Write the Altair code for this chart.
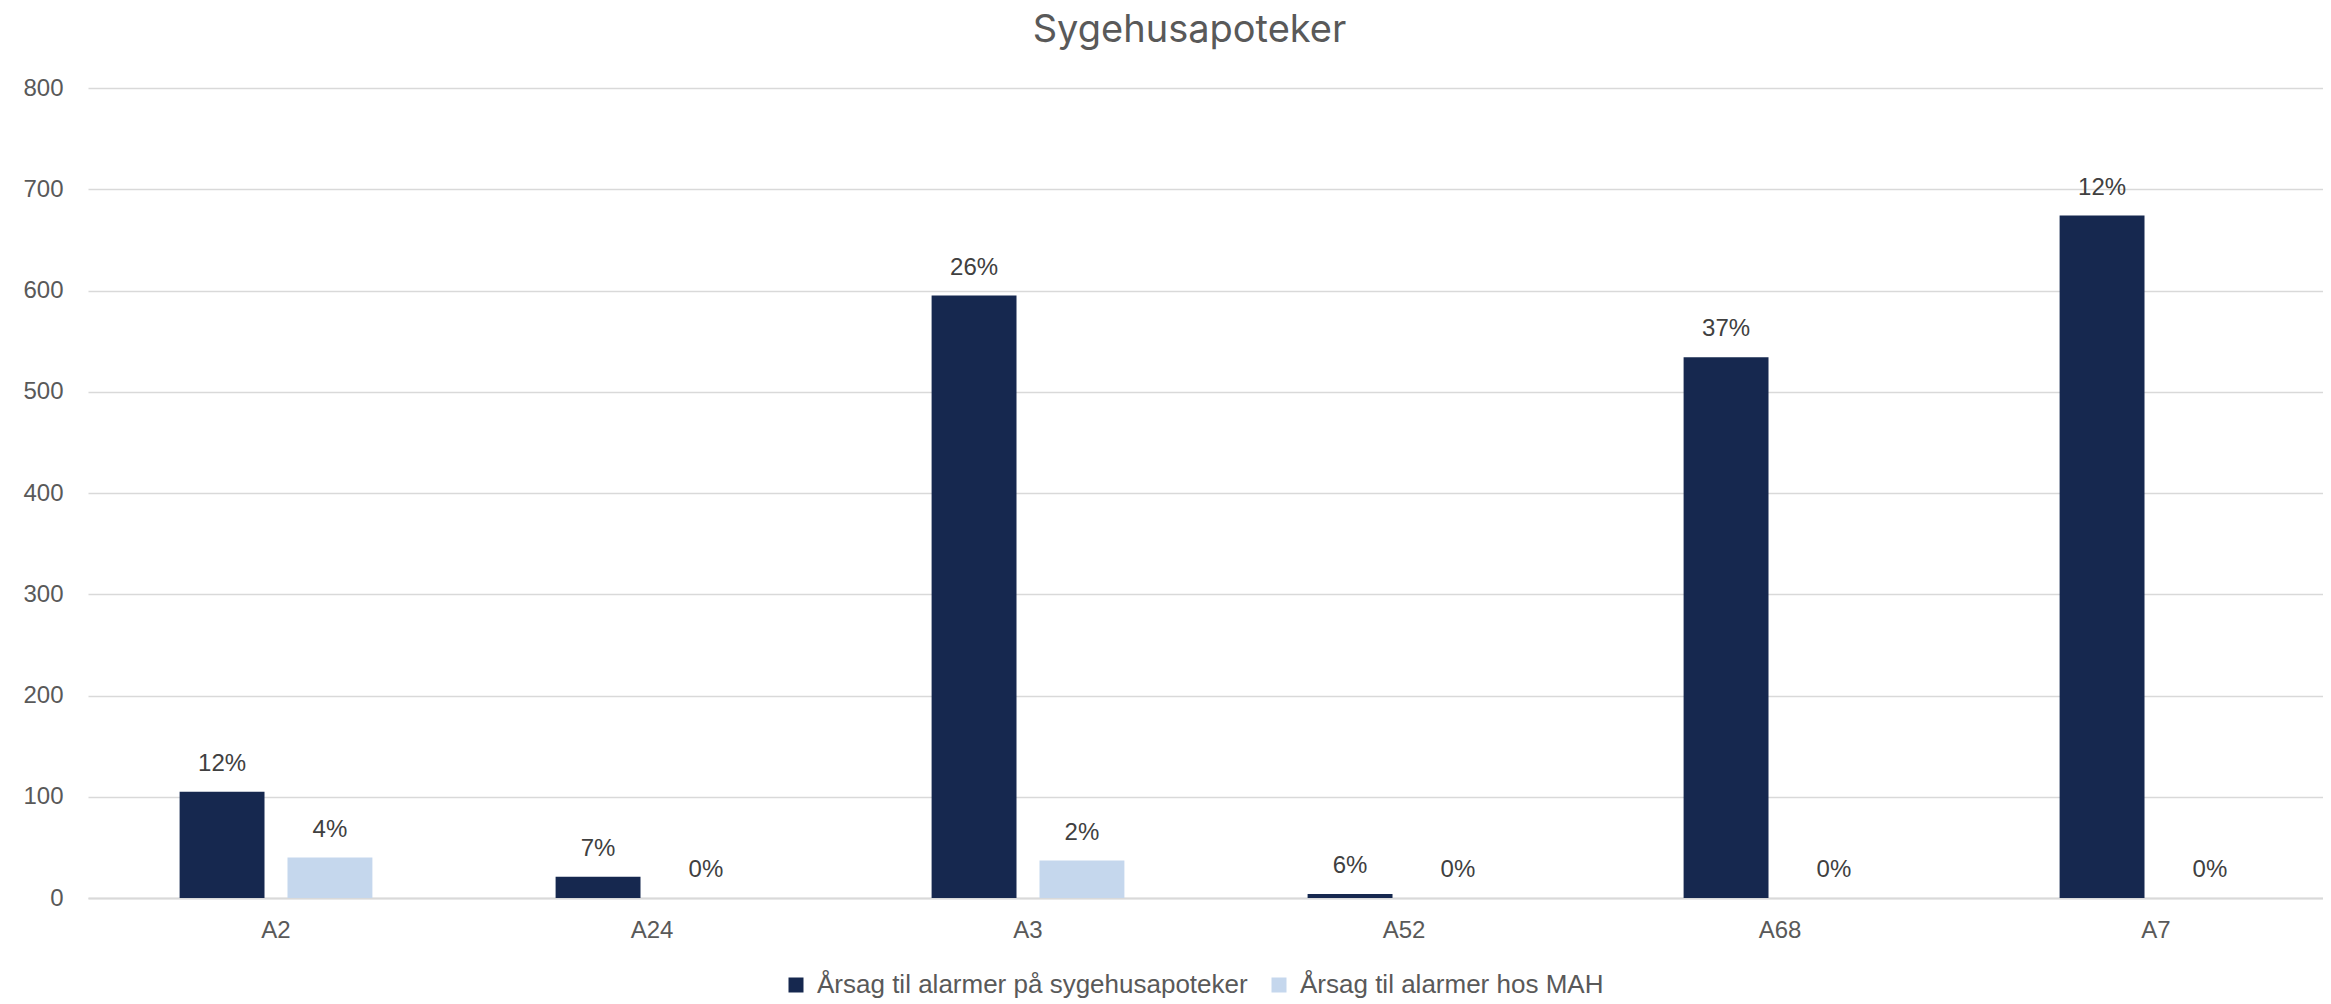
import altair as alt
import pandas as pd

categories = ["A2", "A24", "A3", "A52", "A68", "A7"]
series_names = ["Årsag til alarmer på sygehusapoteker", "Årsag til alarmer hos MAH"]
values_sygehus = [105, 21, 595, 4, 534, 674]
values_mah = [40, 0, 37, 0, 0, 0]
pct_sygehus = ["12%", "7%", "26%", "6%", "37%", "12%"]
pct_mah = ["4%", "0%", "2%", "0%", "0%", "0%"]
y_ticks = [0, 100, 200, 300, 400, 500, 600, 700, 800]
colors = ["#16284f", "#c5d7ed"]

rows = []
for i, c in enumerate(categories):
    rows.append({"cat": c, "series": series_names[0], "value": values_sygehus[i], "pct": pct_sygehus[i]})
    rows.append({"cat": c, "series": series_names[1], "value": values_mah[i], "pct": pct_mah[i]})
df = pd.DataFrame(rows)

base = alt.Chart(df).encode(
    x=alt.X(
        "cat:N",
        sort=categories,
        scale=alt.Scale(range=[0, 2256], paddingInner=0, paddingOuter=0),
        axis=alt.Axis(
            title=None, labelAngle=0, ticks=False, tickSize=0, domain=True,
            domainColor="#d9d9d9", domainWidth=2, labelFontSize=24,
            labelColor="#595959", labelFont="Liberation Sans", labelPadding=20,
            grid=False,
        ),
    ),
    xOffset=alt.XOffset(
        "series:N", sort=series_names,
        scale=alt.Scale(paddingInner=0.213, paddingOuter=0.849),
    ),
    y=alt.Y(
        "value:Q",
        scale=alt.Scale(domain=[0, 800], nice=False),
        axis=alt.Axis(
            title=None, values=y_ticks, ticks=False, tickSize=0, domain=False,
            grid=True, gridColor="#d9d9d9", gridWidth=1.5, labelFontSize=24,
            labelColor="#595959", labelFont="Liberation Sans", labelPadding=25,
        ),
    ),
)

bars = base.mark_bar().encode(
    color=alt.Color(
        "series:N",
        sort=series_names,
        scale=alt.Scale(domain=series_names, range=colors),
        legend=alt.Legend(
            title=None, orient="none", legendX=695, legendY=884,
            direction="horizontal", symbolType="square", symbolSize=225,
            symbolStrokeWidth=0, labelFontSize=26, labelColor="#595959",
            labelFont="Liberation Sans", labelOffset=8, columnPadding=18,
            padding=0, labelLimit=1000,
        ),
    )
)

labels = base.mark_text(
    dy=-28, baseline="middle", fontSize=24, color="#404040", font="Liberation Sans"
).encode(text="pct:N")

chart = (
    alt.layer(bars, labels)
    .properties(
        width=2235,
        height=810,
        autosize=alt.AutoSizeParams(type="none"),
        padding={"left": 80, "top": 80, "right": 0, "bottom": 104},
        title=alt.TitleParams(
            "Sygehusapoteker", fontSize=38, font="Inter", fontWeight="normal",
            color="#595959", anchor="middle", frame="group", offset=-4,
            baseline="alphabetic", dx=-16,
        ),
    )
    .configure_view(stroke=None)
)

chart.save("out.html", embed_options={"renderer": "svg", "actions": False})
